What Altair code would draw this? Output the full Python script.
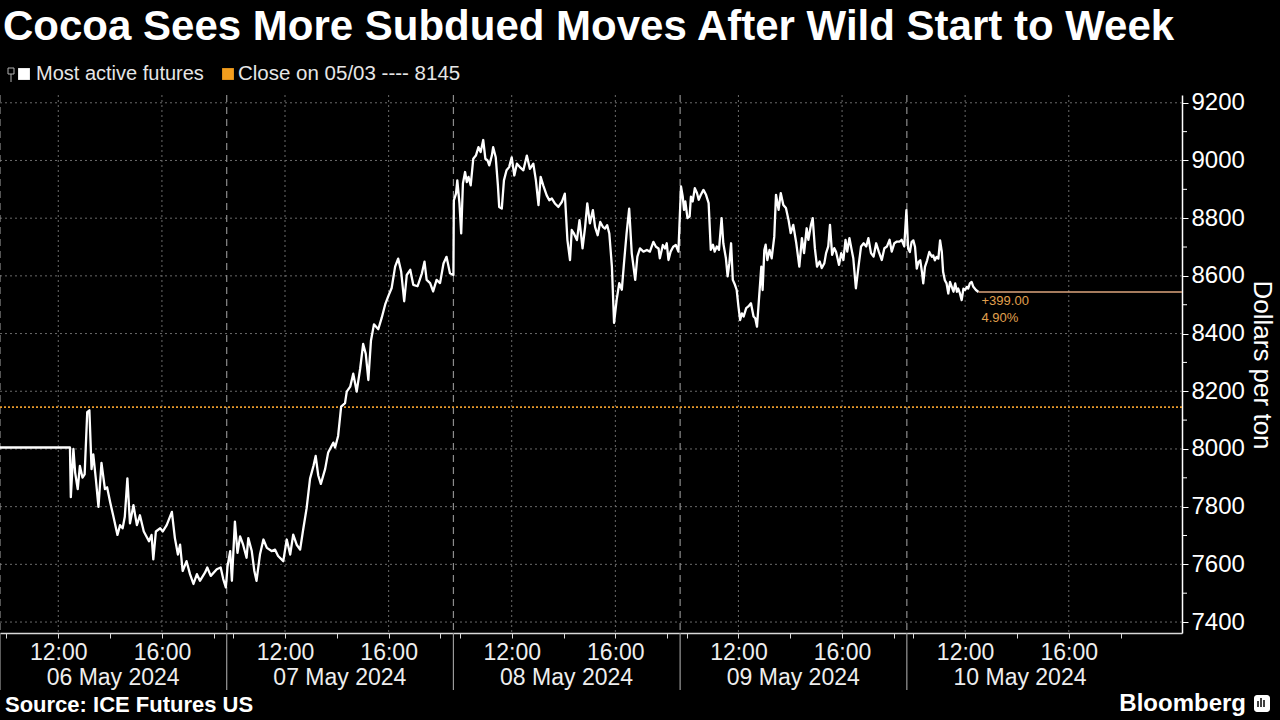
import altair as alt
import pandas as pd

# ---------------- data ----------------
TITLE = "Cocoa Sees More Subdued Moves After Wild Start to Week"
SOURCE = "Source: ICE Futures US"
SERIES_NAME = "Most active futures"
CLOSE_DATE = "05/03"
PREV_CLOSE = 8145
Y_TITLE = "Dollars per ton"
DAYS = ["06 May 2024", "07 May 2024", "08 May 2024", "09 May 2024", "10 May 2024"]
SESSION_OPEN = "09:45"
SESSION_CLOSE = "18:30"
SESSION_MID = "14:07"
TICK_TIMES = ["10:00", "12:00", "14:00", "16:00", "18:00"]
LABEL_TIMES = ["12:00", "16:00"]
Y_TICKS = [7400, 7600, 7800, 8000, 8200, 8400, 8600, 8800, 9000, 9200]
Y_MINOR = [7500, 7700, 7900, 8100, 8300, 8500, 8700, 8900, 9100]

DAY1 = [("09:45", 8005), ("12:27", 8005), ("12:29", 7833), ("12:35", 8000), ("12:39", 7918),
        ("12:45", 7861), ("12:50", 7941), ("12:56", 7901), ("13:01", 7912), ("13:07", 8128),
        ("13:12", 8134), ("13:17", 7930), ("13:21", 7981), ("13:27", 7895), ("13:33", 7799),
        ("13:40", 7952), ("13:48", 7861), ("13:53", 7867), ("14:00", 7816), ("14:07", 7770),
        ("14:17", 7702), ("14:23", 7736), ("14:29", 7725), ("14:34", 7765), ("14:40", 7898),
        ("14:46", 7742), ("14:54", 7805), ("15:02", 7736), ("15:09", 7770), ("15:18", 7714),
        ("15:30", 7680), ("15:36", 7702), ("15:40", 7617), ("15:46", 7714), ("15:56", 7725),
        ("16:02", 7714), ("16:11", 7736), ("16:23", 7782), ("16:30", 7691), ("16:37", 7634),
        ("16:42", 7668), ("16:48", 7577), ("16:57", 7611), ("17:05", 7566), ("17:13", 7532),
        ("17:21", 7566), ("17:28", 7543), ("17:40", 7572), ("17:45", 7589), ("17:53", 7560),
        ("18:07", 7583), ("18:16", 7589), ("18:22", 7549), ("18:28", 7520)]

DAY2 = [("09:47", 7594), ("09:53", 7646), ("09:57", 7543), ("10:04", 7748), ("10:10", 7640),
        ("10:16", 7697), ("10:23", 7668), ("10:31", 7623), ("10:35", 7691), ("10:43", 7646),
        ("10:49", 7577), ("10:54", 7543), ("11:02", 7634), ("11:10", 7686), ("11:18", 7657),
        ("11:29", 7646), ("11:37", 7651), ("11:44", 7629), ("11:56", 7611), ("12:04", 7686),
        ("12:12", 7634), ("12:19", 7703), ("12:27", 7668), ("12:35", 7651), ("12:42", 7720),
        ("12:50", 7794), ("12:58", 7897), ("13:06", 7942), ("13:11", 7976), ("13:17", 7908),
        ("13:23", 7879), ("13:33", 7931), ("13:40", 7988), ("13:52", 8022), ("13:56", 8005),
        ("14:03", 8045), ("14:10", 8147), ("14:19", 8159), ("14:23", 8199), ("14:31", 8216),
        ("14:38", 8261), ("14:46", 8199), ("14:54", 8278), ("15:01", 8364), ("15:07", 8330),
        ("15:13", 8239), ("15:19", 8375), ("15:26", 8432), ("15:36", 8415), ("15:44", 8455),
        ("15:52", 8501), ("15:59", 8529), ("16:07", 8558), ("16:15", 8632), ("16:22", 8660),
        ("16:29", 8615), ("16:36", 8512), ("16:42", 8603), ("16:50", 8621), ("16:57", 8569),
        ("17:07", 8564), ("17:17", 8609), ("17:23", 8649), ("17:28", 8586), ("17:36", 8575),
        ("17:43", 8546), ("17:51", 8586), ("17:59", 8575), ("18:07", 8643), ("18:14", 8666),
        ("18:22", 8609), ("18:30", 8603)]

DAY3 = [("09:46", 8862), ("09:51", 8885), ("09:54", 8931), ("09:59", 8851), ("10:03", 8747),
        ("10:07", 8920), ("10:12", 8960), ("10:16", 8925), ("10:20", 8943), ("10:25", 8914),
        ("10:31", 9006), ("10:37", 9017), ("10:43", 9046), ("10:48", 9029), ("10:54", 9071),
        ("10:59", 9006), ("11:04", 9000), ("11:08", 8983), ("11:14", 9017), ("11:17", 9046),
        ("11:23", 9011), ("11:28", 8914), ("11:31", 8839), ("11:37", 8833), ("11:42", 8931),
        ("11:48", 8966), ("11:54", 8977), ("12:00", 9011), ("12:06", 8948), ("12:12", 8989),
        ("12:19", 8977), ("12:27", 8966), ("12:35", 9017), ("12:42", 8971), ("12:50", 8989),
        ("12:56", 8931), ("13:02", 8845), ("13:07", 8943), ("13:13", 8914), ("13:21", 8879),
        ("13:27", 8862), ("13:33", 8868), ("13:40", 8851), ("13:48", 8839), ("13:56", 8856),
        ("14:03", 8885), ("14:09", 8724), ("14:15", 8655), ("14:19", 8759), ("14:24", 8747),
        ("14:31", 8724), ("14:37", 8793), ("14:44", 8695), ("14:50", 8770), ("14:55", 8851),
        ("15:01", 8782), ("15:08", 8828), ("15:13", 8770), ("15:19", 8741), ("15:25", 8787),
        ("15:31", 8770), ("15:36", 8764), ("15:41", 8776), ("15:46", 8747), ("15:52", 8632),
        ("15:57", 8437), ("16:03", 8517), ("16:09", 8575), ("16:15", 8552), ("16:20", 8644),
        ("16:26", 8747), ("16:32", 8833), ("16:38", 8678), ("16:42", 8632), ("16:46", 8586),
        ("16:51", 8667), ("16:57", 8695), ("17:05", 8684), ("17:13", 8690), ("17:20", 8684),
        ("17:28", 8718), ("17:34", 8701), ("17:40", 8695), ("17:43", 8661), ("17:50", 8707),
        ("17:55", 8695), ("17:59", 8713), ("18:03", 8655), ("18:08", 8684), ("18:14", 8701),
        ("18:20", 8707), ("18:26", 8684)]

DAY4 = [("09:47", 8910), ("09:51", 8875), ("09:54", 8829), ("09:57", 8858), ("10:02", 8800),
        ("10:07", 8806), ("10:10", 8875), ("10:14", 8858), ("10:19", 8904), ("10:24", 8887),
        ("10:28", 8864), ("10:33", 8881), ("10:39", 8898), ("10:45", 8881), ("10:51", 8852),
        ("10:56", 8690), ("11:01", 8708), ("11:05", 8684), ("11:10", 8702), ("11:15", 8690),
        ("11:21", 8800), ("11:25", 8713), ("11:31", 8661), ("11:35", 8598), ("11:39", 8644),
        ("11:43", 8713), ("11:47", 8586), ("11:52", 8569), ("11:56", 8551), ("12:00", 8494),
        ("12:04", 8447), ("12:08", 8470), ("12:12", 8459), ("12:18", 8488), ("12:23", 8494),
        ("12:29", 8505), ("12:35", 8459), ("12:39", 8453), ("12:43", 8424), ("12:48", 8528),
        ("12:53", 8632), ("12:56", 8551), ("13:00", 8690), ("13:03", 8708), ("13:07", 8655),
        ("13:12", 8690), ("13:17", 8661), ("13:23", 8736), ("13:27", 8881), ("13:33", 8829),
        ("13:38", 8887), ("13:44", 8846), ("13:50", 8835), ("13:56", 8794), ("14:01", 8748),
        ("14:07", 8777), ("14:14", 8713), ("14:21", 8632), ("14:27", 8731), ("14:32", 8679),
        ("14:38", 8765), ("14:42", 8725), ("14:48", 8777), ("14:52", 8800), ("14:57", 8696),
        ("15:02", 8632), ("15:08", 8650), ("15:13", 8627), ("15:19", 8644), ("15:23", 8679),
        ("15:28", 8702), ("15:32", 8777), ("15:37", 8673), ("15:42", 8696), ("15:46", 8684),
        ("15:53", 8638), ("15:58", 8679), ("16:03", 8655), ("16:08", 8725), ("16:12", 8684),
        ("16:17", 8731), ("16:23", 8684), ("16:26", 8661), ("16:32", 8557), ("16:38", 8632),
        ("16:44", 8702), ("16:50", 8713), ("16:56", 8702), ("17:01", 8731), ("17:07", 8679),
        ("17:13", 8667), ("17:19", 8713), ("17:25", 8684), ("17:32", 8655), ("17:38", 8696),
        ("17:44", 8702), ("17:50", 8725), ("17:55", 8684), ("18:01", 8713), ("18:07", 8719),
        ("18:13", 8719), ("18:18", 8725), ("18:24", 8702), ("18:29", 8828)]

DAY5 = [("09:48", 8694), ("09:52", 8683), ("09:56", 8717), ("10:00", 8723), ("10:04", 8700),
        ("10:08", 8625), ("10:12", 8648), ("10:16", 8654), ("10:20", 8614), ("10:23", 8574),
        ("10:27", 8631), ("10:32", 8654), ("10:37", 8683), ("10:43", 8666), ("10:46", 8671),
        ("10:50", 8654), ("10:54", 8666), ("10:58", 8660), ("11:02", 8723), ("11:06", 8683),
        ("11:09", 8614), ("11:13", 8585), ("11:17", 8574), ("11:21", 8539), ("11:25", 8579),
        ("11:29", 8562), ("11:33", 8545), ("11:37", 8574), ("11:41", 8545), ("11:44", 8556),
        ("11:48", 8539), ("11:52", 8516), ("11:56", 8556), ("12:00", 8551), ("12:04", 8562),
        ("12:07", 8556), ("12:11", 8574), ("12:15", 8579), ("12:19", 8562), ("12:25", 8551),
        ("12:31", 8544)]

SERIES = [DAY1, DAY2, DAY3, DAY4, DAY5]

# ---------------- helpers ----------------
FONT = "Liberation Sans, Arial, sans-serif"
W, H = 1182, 538
ORANGE = "#f29d1d"


def hours(t):
    h, m = t.split(":")
    return int(h) + int(m) / 60.0


OPEN = hours(SESSION_OPEN)
LEN = hours(SESSION_CLOSE) - OPEN


def pos(day, t):
    return day * LEN + hours(t) - OPEN


rows = []
for d, pts in enumerate(SERIES):
    for t, p in pts:
        rows.append({"pos": pos(d, t), "price": p, "day": DAYS[d], "time": t})
line_df = pd.DataFrame(rows)
last = line_df.iloc[-1]

tick_pos = [pos(d, t) for d in range(len(DAYS)) for t in TICK_TIMES]
grid_pos = pd.DataFrame({"pos": [pos(d, t) for d in range(len(DAYS)) for t in LABEL_TIMES]})
sep_pos = pd.DataFrame({"pos": [pos(d, SESSION_OPEN) for d in range(len(DAYS))]})
date_df = pd.DataFrame({"pos": [pos(d, SESSION_MID) for d in range(len(DAYS))], "label": DAYS})

label_expr = ""
for t in LABEL_TIMES:
    off = hours(t) - OPEN
    label_expr += f"abs((datum.value % {LEN}) - {off}) < 0.01 ? '{t}' : "
label_expr += "''"

xscale = alt.Scale(domain=[0, 45.62], nice=False, zero=False)
yscale = alt.Scale(domain=[7362, 9227], nice=False, zero=False)

xaxis = alt.Axis(values=tick_pos, labelExpr=label_expr, grid=False, title=None,
                 domainColor="#d8d8d8", domainWidth=1.5, tickColor="#d8d8d8", tickSize=5,
                 labelColor="#eeeeee", labelFont=FONT, labelFontSize=23, labelPadding=3,
                 labelFlush=False, labelOverlap=False)
yaxis = alt.Axis(orient="right", values=Y_TICKS, format="d", grid=False, title=None,
                 domainColor="#ffffff", domainWidth=1.5, tickColor="#ffffff", tickSize=6,
                 labelColor="#ffffff", labelFont=FONT, labelFontSize=24, labelPadding=3,
                 labelFlush=False, labelOverlap=False)

X = alt.X("pos:Q", scale=xscale, axis=xaxis)
Y = alt.Y("price:Q", scale=yscale, axis=yaxis)


def text_layer(txt, x, y, size, color="#ffffff", weight="normal", align="left",
               baseline="middle", angle=0):
    return alt.Chart(pd.DataFrame({"label": [txt]})).mark_text(
        align=align, baseline=baseline, fontSize=size, fontWeight=weight,
        color=color, font=FONT, angle=angle
    ).encode(text="label:N", x=alt.value(x), y=alt.value(y))


one = pd.DataFrame({"k": [0]})

hgrid = alt.Chart(pd.DataFrame({"price": Y_TICKS})).mark_rule(
    color="#6a6a6a", strokeDash=[2, 3], strokeWidth=1
).encode(y=Y, x=alt.value(0), x2=alt.value(W))

vgrid = alt.Chart(grid_pos).mark_rule(
    color="#6a6a6a", strokeDash=[2, 3], strokeWidth=1
).encode(x=X)

seps = alt.Chart(sep_pos).mark_rule(
    color="#8c8c8c", strokeDash=[7, 5], strokeWidth=1.2
).encode(x=X)

seps_below = alt.Chart(sep_pos).mark_rule(color="#9a9a9a", strokeWidth=1.2).encode(
    x=X, y=alt.value(H), y2=alt.value(H + 57))

close_rule = alt.Chart(pd.DataFrame({"price": [PREV_CLOSE]})).mark_rule(
    color="#e89a2c", strokeDash=[2, 2], strokeWidth=1.6
).encode(y=Y)

price_line = alt.Chart(line_df).mark_line(
    color="#ffffff", strokeWidth=2.3, strokeJoin="round"
).encode(x=X, y=Y)

end_df = pd.DataFrame({
    "pos": [last["pos"]], "price": [last["price"]],
    "chg": [f"+{last['price'] - PREV_CLOSE:.2f}"],
    "pct": [f"{(last['price'] - PREV_CLOSE) / PREV_CLOSE * 100:.2f}%"],
})
end_rule = alt.Chart(end_df).mark_rule(color="#dca47c", strokeWidth=1.5).encode(
    x=X, x2=alt.value(W), y=Y)
end_chg = alt.Chart(end_df).mark_text(
    align="left", baseline="top", dx=3, dy=3, fontSize=13, color="#e0a04e", font=FONT
).encode(x=X, y=Y, text="chg:N")
end_pct = alt.Chart(end_df).mark_text(
    align="left", baseline="top", dx=3, dy=20, fontSize=13, color="#e0a04e", font=FONT
).encode(x=X, y=Y, text="pct:N")

minor_y = alt.Chart(pd.DataFrame({"price": Y_MINOR})).mark_rule(
    color="#ffffff", strokeWidth=1
).encode(y=Y, x=alt.value(W), x2=alt.value(W + 5))

date_labels = alt.Chart(date_df).mark_text(
    baseline="middle", align="center", fontSize=23, color="#eeeeee", font=FONT
).encode(x=X, y=alt.value(H + 45), text="label:N")

# legend
leg_box = alt.Chart(one).mark_rect(fill="#000000", stroke="#b0b0b0", strokeWidth=1).encode(
    x=alt.value(8), x2=alt.value(14), y=alt.value(-27), y2=alt.value(-21))
leg_stem = alt.Chart(one).mark_rule(color="#b0b0b0", strokeWidth=1).encode(
    x=alt.value(11), y=alt.value(-21), y2=alt.value(-13))
leg_sq1 = alt.Chart(one).mark_square(size=140, color="#ffffff", opacity=1).encode(
    x=alt.value(24), y=alt.value(-21))
leg_sq2 = alt.Chart(one).mark_square(size=140, color=ORANGE, opacity=1).encode(
    x=alt.value(228), y=alt.value(-21))

logo = alt.Chart(one).mark_rect(fill="#ffffff", cornerRadius=3).encode(
    x=alt.value(1254), x2=alt.value(1270), y=alt.value(600), y2=alt.value(617))
logo_bars = alt.Chart(pd.DataFrame({"x": [1258, 1261, 1264], "h": [606, 603, 605]})).mark_rule(
    color="#000000", strokeWidth=1.5
).encode(x=alt.X("x:Q", scale=None), y=alt.Y("h:Q", scale=None), y2=alt.value(612))

texts = [
    text_layer(TITLE, 3, -55, 42, weight="bold", baseline="alphabetic"),
    text_layer(SERIES_NAME, 36, -21, 20, color="#e6e6e6"),
    text_layer(f"Close on {CLOSE_DATE} ---- {PREV_CLOSE}", 238, -21, 20.5, color="#e6e6e6"),
    text_layer(Y_TITLE, 1262, 270, 26, angle=90, align="center"),
    text_layer(SOURCE, 5, 610, 22, weight="bold"),
    text_layer("Bloomberg", 1246, 609, 24, weight="bold", align="right"),
]

chart = alt.layer(
    hgrid, vgrid, seps, seps_below, close_rule, minor_y, price_line, end_rule,
    end_chg, end_pct, date_labels, leg_box, leg_stem, leg_sq1, leg_sq2, logo, logo_bars,
    *texts
).properties(
    width=W, height=H,
    padding={"left": 0, "top": 95, "right": 98, "bottom": 87},
    autosize=alt.AutoSizeParams(type="none"),
).configure(background="#000000").configure_view(strokeWidth=0)

chart.save("out.html", embed_options={"renderer": "svg", "actions": False})
